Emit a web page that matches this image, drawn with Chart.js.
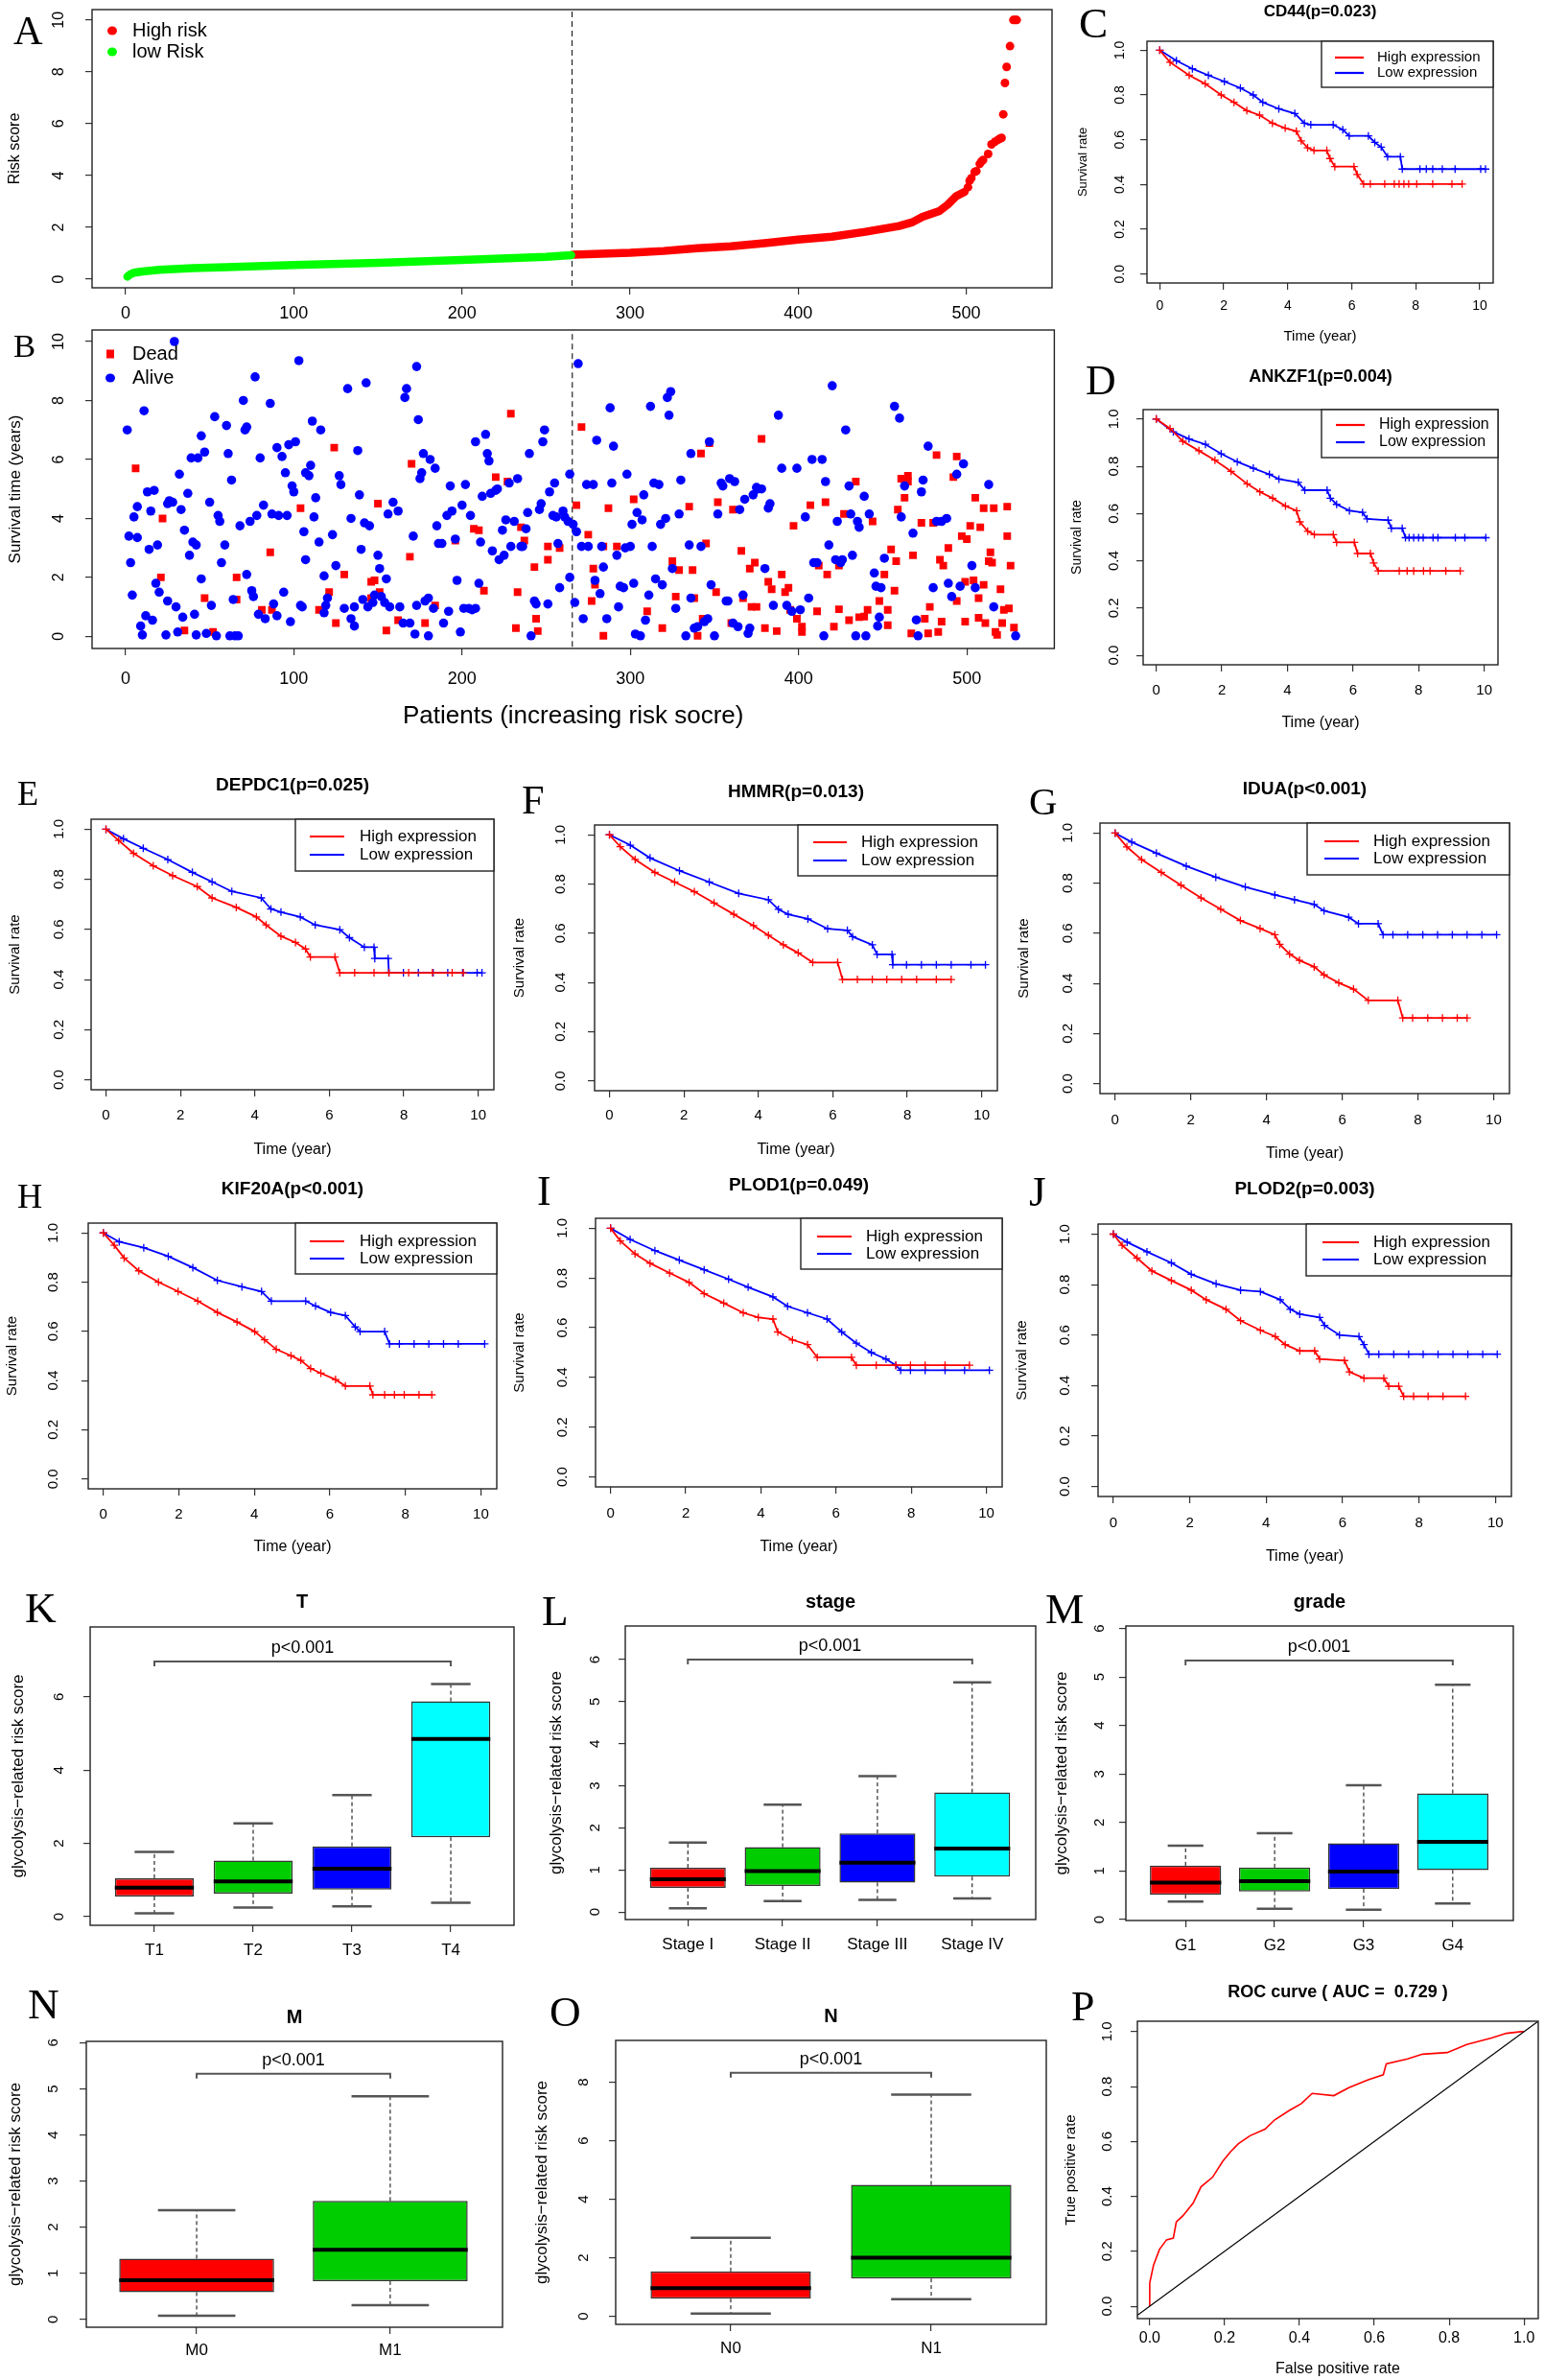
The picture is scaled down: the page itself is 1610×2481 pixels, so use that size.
<!DOCTYPE html>
<html>
<head>
<meta charset="utf-8">
<script src="https://cdn.jsdelivr.net/npm/chart.js@4.4.1/dist/chart.umd.min.js"></script>
<style>
  body { margin: 0; background: #fff; }
  #page { position: relative; width: 1610px; height: 2481px; overflow: hidden; background: #fff; }
  #page canvas { position: absolute; }
  .tag { position: absolute; font-family: "Liberation Serif", "Times New Roman", serif; line-height: 1; color: #000; white-space: nowrap; }
</style>
</head>
<body>
<div id="page"></div>
<script>
// ---------- data ----------
const patientTicks = [0, 100, 200, 300, 400, 500];
const riskTicks = [0, 2, 4, 6, 8, 10];
const survivalTicks = [0, 2, 4, 6, 8, 10];
const cutoffPatient = 265.5;

// A: sorted risk score
const lowRiskCurve = [[1,0.1],[3,0.2],[5,0.25],[10,0.3],[20,0.36],[40,0.43],[60,0.47],[100,0.55],[150,0.63],[200,0.74],[250,0.86],[265,0.93]];
const highRiskCurve = [[266,0.95],[300,1.02],[320,1.09],[340,1.2],[360,1.27],[380,1.39],[400,1.53],[420,1.64],[440,1.83],[460,2.05],[468,2.2],[474,2.41],[484,2.63],[489,2.88],[494,3.2],[499,3.37]];
const highRiskTail = [[501,3.55],[502,3.8],[503,3.9],[505,4.14],[506,4.17],[508,4.45],[509,4.54],[510,4.6],[513,4.83],[515,5.2],[517,5.3],[519,5.38],[520,5.42],[521,5.45],[522,6.36],[523,7.57],[524,8.19],[526,8.99],[528,10],[529,10],[530,10]];

// B: survival status (patient index, years)
const alivePatients = [
[1,7.0],[2,3.4],[3,2.5],[4,1.4],[5,4.05],[7,3.35],[7,4.4],[9,0.35],[10,0.05],[11,7.65],[12,0.7],[13,4.9],[14,2.95],[15,4.25],[16,0.55],[17,4.95],[18,1.8],[19,3.1],[20,1.5],[24,0.05],[25,4.5],[25,1.2],[26,4.6],[28,4.55],[29,10.0],[30,1.0],[31,0.15],[32,5.5],[33,4.3],[34,0.65],[35,3.6],[37,4.85],[38,2.75],[39,6.05],[40,3.2],
[41,0.75],[42,3.1],[42,0.05],[43,6.05],[45,6.8],[45,1.95],[47,6.25],[48,0.1],[50,4.55],[51,1.05],[53,7.45],[54,0.02],[55,4.1],[56,3.9],[57,2.5],[59,3.1],[60,7.15],[61,6.2],[62,0.02],[63,5.3],[64,1.25],[65,0.02],[67,0.02],[68,3.75],[70,8.0],[71,7.0],[72,7.1],[72,2.1],[74,3.9],[75,1.55],[76,1.35],[77,8.8],[78,4.1],[79,0.75],[80,6.05],
[82,4.45],[83,0.6],[86,7.9],[87,4.15],[88,1.1],[90,6.4],[90,0.7],[91,4.1],[93,6.1],[94,1.5],[95,5.55],[96,4.1],[97,6.5],[98,0.5],[99,5.1],[100,4.9],[101,6.6],[103,9.35],[104,1.05],[105,1.0],[106,3.55],[107,2.6],[107,5.55],[109,5.45],[110,5.8],[111,7.3],[112,4.05],[113,4.7],[115,3.2],[116,7.0],[118,0.8],[118,2.05],[119,1.05],[120,1.3],
[123,3.45],[125,2.4],[127,5.45],[128,5.15],[130,0.95],[132,8.4],[134,0.6],[134,4.0],[136,0.35],[136,1.0],[138,6.3],[139,4.8],[140,2.95],[141,1.25],[142,3.85],[143,8.6],[144,1.0],[145,3.75],[147,1.15],[148,1.4],[150,2.75],[151,2.3],[152,1.35],[154,1.15],[155,1.95],[156,4.15],[157,1.0],[159,4.55],
[162,4.25],[163,1.0],[165,0.45],[166,8.1],[167,8.4],[169,0.45],[171,3.4],[172,0.08],[173,1.05],[173,9.15],[174,7.35],[175,5.35],[176,5.55],[177,6.2],[178,1.2],[180,1.3],[180,0.02],[181,6.0],[183,0.95],[184,5.7],[185,3.75],[186,3.15],[188,3.15],[189,0.45],[191,4.1],[192,0.85],[193,5.1],[194,4.25],[196,3.3],[197,1.9],[199,0.15],[200,4.45],[201,0.95],
[202,5.15],[204,0.95],[205,4.1],[206,0.9],[208,0.95],[208,6.6],[210,1.8],[211,3.2],[212,4.75],[214,6.85],[215,6.2],[216,5.95],[217,4.85],[218,2.9],[220,4.95],[221,5.0],[222,2.6],[224,3.6],[225,2.75],[226,3.95],[228,5.2],[229,3.05],[231,3.9],[233,5.35],[235,3.05],[236,3.05],[238,3.65],[239,4.2],[240,6.2],[241,0.02],
[243,1.2],[244,1.1],[246,4.3],[247,4.5],[248,6.6],[249,7.0],[251,1.1],[252,4.9],[254,4.1],[255,5.2],[256,4.05],[257,3.15],[258,1.65],[260,4.25],[261,4.05],[263,3.9],[264,5.5],[264,2.0],[266,3.8],[267,1.15],[268,3.55],[269,9.25],[271,3.05],[272,0.6],[274,5.15],[275,3.05],[278,5.15],[279,1.9],[280,6.65],[282,1.45],
[283,3.05],[284,2.35],[286,0.6],[288,7.75],[289,5.2],[290,6.45],[292,2.75],[293,1.0],[294,1.7],[296,1.65],[297,3.0],[298,5.5],[300,3.05],[301,3.8],[302,1.8],[303,0.08],[304,4.2],[306,0.02],[307,3.95],[308,4.8],[309,0.55],[311,1.4],[312,7.8],[313,3.05],[314,5.2],[315,1.95],[317,5.15],[318,3.8],[319,1.75],[321,4.0],
[322,8.1],[323,7.5],[324,8.3],[325,2.3],[327,0.95],[329,4.15],[330,5.3],[333,0.02],[335,3.1],[336,1.3],[336,6.2],[338,0.28],[340,0.33],[342,3.05],[344,0.5],[346,0.6],[347,6.6],[348,1.75],[350,0.02],[352,4.15],[354,5.2],[355,5.1],[357,1.2],[358,1.2],[359,5.35],[361,0.45],[362,5.25],
[364,0.33],[365,4.3],[367,1.4],[368,4.65],[370,0.1],[371,0.28],[373,4.8],[375,5.05],[376,5.0],[378,5.0],[380,2.3],[382,4.35],[383,4.5],[385,1.05],[388,7.5],[390,5.7],[393,1.05],[396,0.85],[399,5.7],[401,0.9],
[404,4.05],[406,1.3],[408,6.0],[409,2.5],[411,2.5],[414,6.0],[415,0.02],[416,5.25],[418,3.1],[420,8.5],[422,2.6],[423,3.9],[425,2.5],[426,2.6],[428,7.0],[430,5.1],[431,4.15],[432,2.75],[434,0.02],[435,3.9],[436,3.7],[439,4.75],[440,0.02],[442,4.15],
[445,2.15],[446,1.7],[447,0.35],[448,0.65],[449,1.65],[451,2.65],[457,7.8],[460,7.4],[461,4.05],[463,5.1],[468,3.5],[470,0.56],[471,0.02],[473,4.9],[474,5.3],[477,6.45],[480,1.65],[482,3.9],
[485,3.9],[488,4.0],[489,1.8],[491,1.35],[494,5.5],[496,1.7],[498,5.85],[503,2.4],[505,1.65],[513,5.15],[516,1.0],[529,0.02]
];
const deadPatients = [
[6,5.7],[21,2.0],[22,4.0],[35,0.2],[47,1.3],[52,0.15],[66,2.0],[66,1.25],[81,0.9],[86,2.85],[87,0.9],[104,4.35],[115,0.9],[121,1.5],[124,6.4],[125,0.45],[130,2.1],[146,1.85],[146,1.3],[148,1.9],[150,4.5],[151,1.5],[155,0.2],[162,0.55],[169,2.7],[170,5.85],[178,0.45],[184,1.05],[196,3.25],
[207,3.65],[210,3.6],[213,1.55],[220,5.4],[227,5.25],[229,7.55],[232,0.28],[233,1.5],[235,3.7],[237,3.25],[243,2.35],[244,0.6],[245,0.18],[251,2.6],[251,3.05],[258,3.0],[268,4.45],[271,7.1],[275,3.45],[277,1.2],[278,2.3],[279,1.75],[284,0.02],[284,3.05],[287,4.35],[292,3.05],
[302,4.65],[310,0.85],[319,0.28],[325,2.55],[327,1.35],[329,2.25],[335,4.4],[337,2.25],[338,1.3],[340,0.02],[342,6.2],[343,0.6],[345,3.15],[347,6.55],[351,1.5],[352,4.55],[360,0.45],[361,4.3],[366,2.9],[367,1.3],[371,2.3],[372,1.0],[374,2.5],[375,1.0],[378,6.7],[380,0.28],[382,1.85],[384,1.6],[387,0.18],[390,2.1],[392,1.5],[394,1.65],[395,0.9],[397,3.75],[399,0.6],
[402,0.33],[402,0.15],[407,4.45],[411,0.85],[412,2.4],[416,4.55],[417,2.1],[421,0.33],[424,0.92],[424,2.4],[427,4.15],[430,0.55],[434,5.25],[436,0.65],[439,0.67],[441,0.9],[444,3.9],[448,1.2],[451,2.1],[453,0.9],[453,0.38],[455,2.95],[457,1.55],[458,2.55],[459,4.3],[461,5.35],[463,4.7],[465,5.45],[465,5.25],[467,0.1],[468,2.75],[473,3.85],[475,0.6],[477,0.1],[478,1.0],[480,3.85],[482,6.15],[483,0.15],[484,2.6],[485,0.5],[486,2.4],[489,3.0],[492,5.4],[494,6.1],[494,1.2],[497,3.4],[499,1.85],[499,0.5],
[500,3.3],[502,3.75],[504,1.9],[505,4.7],[507,1.3],[507,0.63],[508,3.7],[510,4.35],[510,1.75],[511,0.45],[513,2.55],[514,2.85],[515,2.5],[516,4.35],[517,0.15],[518,0.05],[520,1.6],[521,0.45],[522,0.9],[524,3.4],[524,4.4],[525,0.95],[526,2.4],[528,0.3]
];

// C-J: Kaplan-Meier curves (time in years, survival rate)
const kmTimeTicks = [0, 2, 4, 6, 8, 10];
const kmRateTicks = [0, 0.2, 0.4, 0.6, 0.8, 1.0];
const kmTitles = ['CD44(p=0.023)', 'ANKZF1(p=0.004)', 'DEPDC1(p=0.025)', 'HMMR(p=0.013)', 'IDUA(p<0.001)', 'KIF20A(p<0.001)', 'PLOD1(p=0.049)', 'PLOD2(p=0.003)'];
const kmLegendLabels = ['High expression', 'Low expression'];

const cd44High = [[0,1],[0.32,0.946],[0.92,0.888],[1.42,0.85],[1.92,0.8],[2.32,0.767],[2.72,0.73],[3.12,0.71],[3.52,0.674],[3.92,0.652],[4.27,0.638],[4.42,0.595],[4.62,0.564],[4.82,0.552],[5.22,0.552],[5.32,0.516],[5.47,0.48],[6.07,0.48],[6.17,0.445],[6.37,0.402],[6.58,0.402],[7.03,0.402],[7.33,0.402],[7.48,0.402],[7.63,0.402],[7.78,0.402],[8.03,0.402],[8.53,0.402],[9.13,0.402],[9.45,0.402]];
const cd44Low = [[0,1],[0.52,0.953],[1.02,0.917],[1.52,0.888],[2.02,0.86],[2.52,0.831],[2.92,0.8],[3.22,0.767],[3.72,0.738],[4.22,0.717],[4.52,0.674],[4.72,0.667],[5.42,0.667],[5.72,0.645],[5.92,0.617],[6.52,0.617],[6.72,0.588],[6.92,0.567],[7.12,0.524],[7.52,0.524],[7.58,0.469],[8.13,0.469],[8.33,0.469],[8.53,0.469],[8.83,0.469],[9.23,0.469],[10.03,0.469],[10.18,0.469]];
const ankzf1High = [[0,1],[0.42,0.96],[0.81,0.906],[1.3,0.866],[1.79,0.826],[2.28,0.779],[2.77,0.726],[3.16,0.692],[3.55,0.665],[3.94,0.632],[4.28,0.612],[4.38,0.565],[4.62,0.525],[4.82,0.511],[5.4,0.511],[5.5,0.478],[6.04,0.478],[6.14,0.431],[6.53,0.431],[6.63,0.391],[6.77,0.357],[7.41,0.357],[7.65,0.357],[7.85,0.357],[8.15,0.357],[8.35,0.357],[8.83,0.357],[9.27,0.357]];
const ankzf1Low = [[0,1],[0.52,0.946],[1.0,0.916],[1.5,0.893],[1.98,0.853],[2.47,0.819],[2.96,0.792],[3.45,0.766],[3.74,0.746],[4.33,0.732],[4.53,0.699],[5.21,0.699],[5.31,0.665],[5.5,0.639],[5.89,0.612],[6.29,0.605],[6.43,0.578],[7.07,0.572],[7.17,0.538],[7.5,0.538],[7.6,0.498],[7.71,0.498],[7.85,0.498],[8.0,0.498],[8.14,0.498],[8.44,0.498],[8.59,0.498],[9.12,0.498],[9.41,0.498],[10.05,0.498]];
const depdc1High = [[0,1],[0.34,0.955],[0.74,0.904],[1.27,0.854],[1.79,0.815],[2.45,0.771],[2.85,0.726],[3.5,0.688],[4.04,0.65],[4.3,0.618],[4.7,0.573],[5.09,0.548],[5.36,0.522],[5.49,0.49],[6.15,0.49],[6.28,0.427],[6.68,0.427],[7.2,0.427],[7.6,0.427],[8.13,0.427],[8.77,0.427],[9.3,0.427],[9.6,0.427]];
const depdc1Low = [[0,1],[0.47,0.962],[1.0,0.924],[1.66,0.879],[2.32,0.828],[2.85,0.79],[3.38,0.752],[4.17,0.726],[4.43,0.682],[4.7,0.669],[5.22,0.65],[5.62,0.618],[6.28,0.599],[6.54,0.567],[6.94,0.529],[7.2,0.529],[7.22,0.484],[7.58,0.484],[7.6,0.427],[7.99,0.427],[8.39,0.427],[8.79,0.427],[9.18,0.427],[9.58,0.427],[9.97,0.427],[10.1,0.427]];
const hmmrHigh = [[0,1],[0.29,0.952],[0.69,0.9],[1.22,0.847],[1.75,0.808],[2.28,0.769],[2.81,0.723],[3.34,0.677],[3.87,0.631],[4.27,0.592],[4.67,0.553],[5.07,0.52],[5.46,0.481],[6.13,0.481],[6.26,0.412],[6.66,0.412],[7.06,0.412],[7.45,0.412],[7.85,0.412],[8.25,0.412],[8.78,0.412],[9.18,0.412]];
const hmmrLow = [[0,1],[0.56,0.958],[1.09,0.906],[1.88,0.854],[2.68,0.808],[3.47,0.762],[4.27,0.736],[4.54,0.697],[4.8,0.677],[5.33,0.658],[5.86,0.618],[6.39,0.612],[6.53,0.586],[7.06,0.553],[7.19,0.514],[7.59,0.514],[7.61,0.472],[7.98,0.472],[8.38,0.472],[8.78,0.472],[9.18,0.472],[9.71,0.472],[10.1,0.472]];
const iduaHigh = [[0,1],[0.31,0.945],[0.7,0.894],[1.22,0.843],[1.74,0.792],[2.27,0.741],[2.79,0.696],[3.31,0.651],[3.83,0.619],[4.22,0.594],[4.35,0.556],[4.61,0.517],[4.87,0.492],[5.26,0.466],[5.52,0.434],[5.91,0.402],[6.3,0.377],[6.69,0.332],[7.47,0.332],[7.6,0.262],[7.86,0.262],[8.26,0.262],[8.65,0.262],[9.04,0.262],[9.3,0.262]];
const iduaLow = [[0,1],[0.44,0.964],[1.09,0.92],[1.88,0.868],[2.66,0.824],[3.44,0.785],[4.22,0.753],[4.74,0.734],[5.26,0.715],[5.52,0.69],[6.17,0.664],[6.43,0.638],[6.95,0.638],[7.08,0.594],[7.34,0.594],[7.73,0.594],[8.13,0.594],[8.52,0.594],[8.91,0.594],[9.3,0.594],[9.69,0.594],[10.08,0.594]];
const kif20aHigh = [[0,1],[0.29,0.95],[0.55,0.898],[0.94,0.846],[1.46,0.8],[1.98,0.762],[2.5,0.723],[3.02,0.677],[3.54,0.638],[4.01,0.599],[4.27,0.566],[4.58,0.527],[4.97,0.501],[5.23,0.482],[5.49,0.449],[5.76,0.43],[6.15,0.404],[6.41,0.378],[7.06,0.378],[7.14,0.342],[7.45,0.342],[7.71,0.342],[7.97,0.342],[8.36,0.342],[8.7,0.342]];
const kif20aLow = [[0,1],[0.42,0.964],[1.07,0.94],[1.72,0.905],[2.37,0.859],[3.02,0.807],[3.67,0.781],[4.19,0.762],[4.45,0.723],[5.36,0.723],[5.62,0.703],[6.02,0.677],[6.41,0.664],[6.67,0.618],[6.8,0.599],[7.45,0.599],[7.58,0.549],[7.84,0.549],[8.23,0.549],[8.62,0.549],[9.01,0.549],[9.4,0.549],[10.1,0.549]];
const plod1High = [[0,1],[0.26,0.949],[0.65,0.897],[1.05,0.859],[1.57,0.82],[2.09,0.782],[2.49,0.737],[3.01,0.699],[3.53,0.66],[3.93,0.641],[4.32,0.635],[4.45,0.583],[4.84,0.551],[5.24,0.532],[5.5,0.481],[6.41,0.481],[6.54,0.449],[7.07,0.449],[7.59,0.449],[7.98,0.449],[8.37,0.449],[8.9,0.449],[9.55,0.449]];
const plod1Low = [[0,1],[0.52,0.955],[1.18,0.91],[1.83,0.872],[2.49,0.833],[3.14,0.795],[3.66,0.763],[4.32,0.724],[4.71,0.686],[5.24,0.66],[5.76,0.635],[6.15,0.583],[6.54,0.538],[6.94,0.5],[7.33,0.474],[7.59,0.449],[7.72,0.429],[7.98,0.429],[8.37,0.429],[8.9,0.429],[9.42,0.429],[10.08,0.429]];
const plod2High = [[0,1],[0.23,0.956],[0.62,0.905],[1.01,0.854],[1.52,0.816],[2.04,0.778],[2.43,0.74],[2.95,0.702],[3.33,0.657],[3.85,0.619],[4.24,0.594],[4.5,0.562],[4.88,0.537],[5.27,0.537],[5.4,0.505],[6.05,0.499],[6.18,0.454],[6.56,0.429],[7.08,0.429],[7.21,0.397],[7.47,0.397],[7.6,0.357],[7.86,0.357],[8.24,0.357],[8.63,0.357],[9.22,0.357]];
const plod2Low = [[0,1],[0.36,0.968],[0.88,0.93],[1.52,0.886],[2.04,0.841],[2.69,0.803],[3.33,0.778],[3.85,0.772],[4.37,0.74],[4.63,0.702],[4.88,0.683],[5.4,0.67],[5.53,0.638],[5.92,0.6],[6.43,0.594],[6.56,0.562],[6.69,0.524],[6.95,0.524],[7.34,0.524],[7.73,0.524],[8.11,0.524],[8.5,0.524],[8.89,0.524],[9.28,0.524],[9.67,0.524],[10.05,0.524]];

// K-O: box plots, each box = [min, q1, median, q3, max]
const boxYTitle = 'glycolysis\u2212related risk score';
const pValueText = 'p<0.001';
const boxColors = ['#FF0000', '#00CD00', '#0000FF', '#00FFFF'];
const tCategories = ['T1', 'T2', 'T3', 'T4'];
const tBoxes = [[0.09,0.55,0.79,1.05,1.77],[0.25,0.63,0.96,1.53,2.55],[0.28,0.74,1.31,1.92,3.32],[0.38,2.17,4.85,5.88,6.35]];
const stageCategories = ['Stage I', 'Stage II', 'Stage III', 'Stage IV'];
const stageBoxes = [[0.09,0.57,0.78,1.05,1.65],[0.26,0.62,0.97,1.54,2.55],[0.29,0.7,1.17,1.87,3.23],[0.32,0.84,1.51,2.84,5.46]];
const gradeCategories = ['G1', 'G2', 'G3', 'G4'];
const gradeBoxes = [[0.37,0.51,0.76,1.11,1.52],[0.22,0.58,0.79,1.07,1.78],[0.2,0.63,0.99,1.57,2.77],[0.33,1.02,1.6,2.6,4.84]];
const mCategories = ['M0', 'M1'];
const mBoxes = [[0.08,0.59,0.85,1.32,2.37],[0.31,0.83,1.51,2.57,4.84]];
const nCategories = ['N0', 'N1'];
const nBoxes = [[0.09,0.6,0.96,1.53,2.68],[0.58,1.29,2.0,4.49,7.58]];
const boxTicks6 = [0, 1, 2, 3, 4, 5, 6];
const tTicks = [0, 2, 4, 6];
const nTicks = [0, 2, 4, 6, 8];

// P: ROC curve
const rocTicks = [0, 0.2, 0.4, 0.6, 0.8, 1.0];
const rocPoints = [[0,0],[0,0.085],[0.01,0.149],[0.026,0.207],[0.045,0.242],[0.063,0.248],[0.071,0.307],[0.089,0.33],[0.116,0.376],[0.137,0.435],[0.168,0.47],[0.195,0.528],[0.216,0.563],[0.237,0.592],[0.268,0.621],[0.308,0.645],[0.334,0.679],[0.374,0.714],[0.405,0.738],[0.434,0.775],[0.492,0.767],[0.532,0.796],[0.584,0.825],[0.624,0.843],[0.632,0.883],[0.689,0.901],[0.729,0.918],[0.795,0.924],[0.847,0.953],[0.913,0.977],[0.953,0.994],[0.992,1.0],[1,1]];
const chanceLine = [[-0.05,-0.05],[1.05,1.05]];

// ---------- drawing ----------
const FONT = '"Liberation Sans", Arial, Helvetica, sans-serif';
const RED = '#FF0000', BLUE = '#0000FF', GREEN = '#00FF00';
Chart.defaults.font.family = FONT;
Chart.defaults.color = '#000';

const page = document.getElementById('page');

function makeCanvas(x, y, w, h) {
  const c = document.createElement('canvas');
  c.width = w; c.height = h;
  c.style.left = x + 'px'; c.style.top = y + 'px';
  c.style.width = w + 'px'; c.style.height = h + 'px';
  page.appendChild(c);
  return c;
}

function addTag(letter, x, capTop, capH) {
  const size = capH / 0.662;
  const d = document.createElement('div');
  d.className = 'tag';
  d.textContent = letter;
  d.style.fontSize = size + 'px';
  d.style.left = x + 'px';
  d.style.top = (capTop - 0.1755 * size) + 'px';
  page.appendChild(d);
}

const framePlugin = {
  id: 'frame',
  afterDraw(chart) {
    const { ctx, chartArea: a } = chart;
    ctx.save();
    ctx.strokeStyle = '#222';
    ctx.lineWidth = 1.4;
    ctx.strokeRect(a.left, a.top, a.right - a.left, a.bottom - a.top);
    ctx.restore();
  }
};

// legend box in the top right corner (KM panels)
function boxLegend(o) {
  return {
    id: 'boxLegend',
    afterDraw(chart) {
      const { ctx, chartArea: a } = chart;
      const x0 = a.right - o.w, y0 = a.top;
      ctx.save();
      ctx.fillStyle = '#fff';
      ctx.fillRect(x0, y0, o.w, o.h);
      ctx.strokeStyle = '#222';
      ctx.lineWidth = 1.4;
      ctx.strokeRect(x0, y0, o.w, o.h);
      ctx.font = o.size + 'px ' + FONT;
      ctx.textBaseline = 'middle';
      [RED, BLUE].forEach((color, i) => {
        const y = y0 + o.rows[i];
        ctx.strokeStyle = color;
        ctx.lineWidth = 2.2;
        ctx.beginPath();
        ctx.moveTo(x0 + o.line[0], y);
        ctx.lineTo(x0 + o.line[1], y);
        ctx.stroke();
        ctx.fillStyle = '#000';
        ctx.fillText(kmLegendLabels[i], x0 + o.textX, y);
      });
      ctx.restore();
    }
  };
}

// marker legend in the top left corner (A, B)
function markerLegend(o) {
  return {
    id: 'markerLegend',
    afterDraw(chart) {
      const { ctx, chartArea: a } = chart;
      ctx.save();
      ctx.font = o.size + 'px ' + FONT;
      ctx.textBaseline = 'middle';
      o.items.forEach((it, i) => {
        const y = a.top + o.rows[i], x = a.left + o.markX;
        ctx.fillStyle = it.color;
        ctx.beginPath();
        if (it.shape === 'rect') ctx.rect(x - 4, y - 4.5, 8, 9);
        else ctx.ellipse(x, y, 5, 4.5, 0, 0, Math.PI * 2);
        ctx.fill();
        ctx.fillStyle = '#000';
        ctx.fillText(it.text, a.left + o.textX, y);
      });
      ctx.restore();
    }
  };
}

// whiskers, medians and the p-value bracket of a box plot
function boxExtras(boxes, bracketLevel) {
  return {
    id: 'boxExtras',
    afterDatasetsDraw(chart) {
      const { ctx, scales: { x, y } } = chart;
      const unit = x.getPixelForValue(2) - x.getPixelForValue(1);
      ctx.save();
      boxes.forEach((bx, i) => {
        const px = x.getPixelForValue(i + 1);
        const [lo, q1, med, q3, hi] = bx.map(v => y.getPixelForValue(v));
        ctx.strokeStyle = '#000';
        ctx.lineWidth = 1;
        ctx.setLineDash([4, 3]);
        ctx.beginPath();
        ctx.moveTo(px, q3); ctx.lineTo(px, hi);
        ctx.moveTo(px, q1); ctx.lineTo(px, lo);
        ctx.stroke();
        ctx.setLineDash([]);
        ctx.strokeStyle = '#555';
        ctx.lineWidth = 2.5;
        ctx.beginPath();
        ctx.moveTo(px - unit * 0.2, hi); ctx.lineTo(px + unit * 0.2, hi);
        ctx.moveTo(px - unit * 0.2, lo); ctx.lineTo(px + unit * 0.2, lo);
        ctx.stroke();
        ctx.strokeStyle = '#000';
        ctx.lineWidth = 4;
        ctx.beginPath();
        ctx.moveTo(px - unit * 0.4, med); ctx.lineTo(px + unit * 0.4, med);
        ctx.stroke();
      });
      const by = y.getPixelForValue(bracketLevel);
      const x1 = x.getPixelForValue(1), x2 = x.getPixelForValue(boxes.length);
      ctx.strokeStyle = '#555';
      ctx.lineWidth = 2;
      ctx.beginPath();
      ctx.moveTo(x1, by + 5); ctx.lineTo(x1, by); ctx.lineTo(x2, by); ctx.lineTo(x2, by + 5);
      ctx.stroke();
      ctx.fillStyle = '#000';
      ctx.font = '18px ' + FONT;
      ctx.textAlign = 'center';
      ctx.textBaseline = 'middle';
      ctx.fillText(pValueText, (x1 + x2) / 2, by - 14);
      ctx.restore();
    }
  };
}

// one R-style panel: box frame, outward ticks, rotated y labels
function buildPlot(s) {
  const [cx, cy, cw, ch] = s.canvas;
  const [l, t, r, b] = s.area;
  const canvas = makeCanvas(cx, cy, cw, ch);
  const tickLen = 7;
  const titleOpt = { display: false };
  let padTop = t - cy;
  if (s.title) {
    const lh = s.title.size * 1.2;
    const c = s.title.y - cy;
    Object.assign(titleOpt, {
      display: true, text: s.title.text, fullSize: false, color: '#000',
      font: { size: s.title.size, weight: 'bold' },
      padding: { top: c - lh / 2, bottom: (t - cy) - c - lh / 2 }
    });
    padTop = 0;
  }
  const m = document.createElement('canvas').getContext('2d');
  m.font = s.y.size + 'px ' + FONT;
  const widest = Math.max(...s.y.ticks.map(v => m.measureText(s.y.fmt(v)).width));
  const noPad = sc => { sc.paddingLeft = 0; sc.paddingRight = 0; sc.paddingTop = 0; sc.paddingBottom = 0; };
  const gridOpt = { drawOnChartArea: false, drawTicks: true, tickLength: tickLen, color: '#333', lineWidth: 1.2, offset: false };
  return new Chart(canvas, {
    type: s.type || 'scatter',
    data: { datasets: s.datasets },
    options: {
      responsive: false,
      animation: false,
      devicePixelRatio: 1,
      layout: { padding: { left: 0, right: cx + cw - r, top: padTop, bottom: 0 } },
      plugins: { legend: { display: false }, tooltip: { enabled: false }, title: titleOpt },
      scales: {
        x: {
          type: 'linear', min: s.x.min, max: s.x.max, offset: false,
          afterBuildTicks: sc => { sc.ticks = s.x.ticks.map(v => ({ value: v })); },
          afterFit: sc => { sc.height = cy + ch - b; noPad(sc); },
          grid: gridOpt,
          border: { display: false },
          ticks: {
            autoSkip: false, maxRotation: 0, minRotation: 0, color: '#000',
            font: { size: s.x.size },
            padding: (s.x.labelY - b) - tickLen - s.x.size * 0.6,
            callback: v => s.x.fmt(v)
          },
          title: s.x.title ? {
            display: true, text: s.x.title, color: '#000', font: { size: s.x.titleSize },
            padding: { top: 0, bottom: (cy + ch - s.x.titleY) - s.x.titleSize * 0.6 }
          } : { display: false }
        },
        y: {
          type: 'linear', min: s.y.min, max: s.y.max,
          afterBuildTicks: sc => { sc.ticks = s.y.ticks.map(v => ({ value: v })); },
          afterFit: sc => { sc.width = l - cx; noPad(sc); },
          grid: gridOpt,
          border: { display: false },
          ticks: {
            autoSkip: false, minRotation: 90, maxRotation: 90, crossAlign: 'center', color: '#000',
            font: { size: s.y.size },
            padding: (l - s.y.labelX) - tickLen - widest / 2,
            callback: v => s.y.fmt(v)
          },
          title: {
            display: true, text: s.y.title, color: '#000', font: { size: s.y.titleSize },
            padding: { top: (s.y.titleX - cx) - s.y.titleSize * 0.6, bottom: 0 }
          }
        }
      }
    },
    plugins: [framePlugin].concat(s.plugins || [])
  });
}

// A: risk score
buildPlot({
  canvas: [0, 0, 1105, 338], area: [96, 10, 1097, 300],
  x: { min: -20, max: 551, ticks: patientTicks, size: 18, labelY: 327, fmt: v => String(v) },
  y: { min: -0.33, max: 10.4, ticks: riskTicks, size: 16, labelX: 62, fmt: v => String(v),
       title: 'Risk score', titleSize: 16, titleX: 16 },
  datasets: [
    { data: lowRiskCurve, showLine: true, borderColor: GREEN, borderWidth: 8.5, borderCapStyle: 'round', borderJoinStyle: 'round', pointRadius: 0 },
    { data: highRiskCurve, showLine: true, borderColor: RED, borderWidth: 8.5, borderCapStyle: 'round', borderJoinStyle: 'round', pointRadius: 0 },
    { data: highRiskTail, pointRadius: 4.5, pointBackgroundColor: RED, pointBorderWidth: 0 },
    { data: [[cutoffPatient, -1], [cutoffPatient, 11]], showLine: true, borderColor: '#222', borderWidth: 1.2, borderDash: [6, 4], pointRadius: 0 }
  ],
  plugins: [markerLegend({ markX: 21, textX: 42, rows: [22, 44], size: 20,
    items: [{ color: RED, text: 'High risk' }, { color: GREEN, text: 'low Risk' }] })]
});

// B: survival status
buildPlot({
  canvas: [0, 338, 1105, 437], area: [96, 344, 1103, 676],
  x: { min: -19.9, max: 552, ticks: patientTicks, size: 18, labelY: 708, fmt: v => String(v),
       title: 'Patients (increasing risk socre)', titleSize: 26, titleY: 747 },
  y: { min: -0.41, max: 10.39, ticks: survivalTicks, size: 16, labelX: 62, fmt: v => String(v),
       title: 'Survival time (years)', titleSize: 17, titleX: 16 },
  datasets: [
    { data: alivePatients, pointStyle: 'circle', pointRadius: 4.8, pointBackgroundColor: BLUE, pointBorderWidth: 0 },
    { data: deadPatients, pointStyle: 'rect', pointRadius: 5.6, pointBackgroundColor: RED, pointBorderWidth: 0 },
    { data: [[cutoffPatient, -1], [cutoffPatient, 11]], showLine: true, borderColor: '#222', borderWidth: 1.2, borderDash: [6, 4], pointRadius: 0 }
  ],
  plugins: [markerLegend({ markX: 19, textX: 42, rows: [25, 50], size: 20,
    items: [{ color: RED, text: 'Dead', shape: 'rect' }, { color: BLUE, text: 'Alive' }] })]
});

// C-J: survival curves
const kmPanels = [
  { canvas: [1095, 0, 515, 372], area: [1196, 43, 1557, 295], titleY: 12, titleSize: 17, xLabelY: 319, xTitleY: 351, yLabelX: 1168, yTitleX: 1129,
    tick: 14, yTick: 14, xTitle: 15, yTitle: 13, high: cd44High, low: cd44Low, legend: { w: 179, h: 48, line: [14, 44], textX: 58, rows: [17, 33], size: 15 } },
  { canvas: [1095, 372, 515, 403], area: [1192, 427, 1562, 693], titleY: 393, titleSize: 18, xLabelY: 720, xTitleY: 754, yLabelX: 1162, yTitleX: 1123,
    tick: 15, yTick: 15, xTitle: 16, yTitle: 14, high: ankzf1High, low: ankzf1Low, legend: { w: 184, h: 50, line: [15, 45], textX: 60, rows: [16, 34], size: 16 } },
  { canvas: [0, 800, 540, 415], area: [95, 854, 515, 1136], titleY: 819, titleSize: 19, xLabelY: 1163, xTitleY: 1199, yLabelX: 62, yTitleX: 16,
    tick: 15, yTick: 15, xTitle: 16, yTitle: 15, high: depdc1High, low: depdc1Low, legend: { w: 207, h: 54, line: [15, 51], textX: 67, rows: [18, 37], size: 17 } },
  { canvas: [520, 800, 545, 415], area: [620, 860, 1040, 1137], titleY: 826, titleSize: 19, xLabelY: 1163, xTitleY: 1199, yLabelX: 585, yTitleX: 542,
    tick: 15, yTick: 15, xTitle: 16, yTitle: 15, high: hmmrHigh, low: hmmrLow, legend: { w: 208, h: 53, line: [16, 51], textX: 66, rows: [18, 37], size: 17 } },
  { canvas: [1045, 800, 565, 415], area: [1147, 858, 1574, 1140], titleY: 823, titleSize: 19, xLabelY: 1168, xTitleY: 1203, yLabelX: 1114, yTitleX: 1068,
    tick: 15, yTick: 15, xTitle: 16, yTitle: 15, high: iduaHigh, low: iduaLow, legend: { w: 211, h: 54, line: [18, 54], textX: 69, rows: [19, 37], size: 17 } },
  { canvas: [0, 1215, 540, 425], area: [92, 1275, 518, 1552], titleY: 1240, titleSize: 19, xLabelY: 1579, xTitleY: 1613, yLabelX: 56, yTitleX: 13,
    tick: 15, yTick: 15, xTitle: 16, yTitle: 15, high: kif20aHigh, low: kif20aLow, legend: { w: 210, h: 53, line: [15, 51], textX: 67, rows: [19, 37], size: 17 } },
  { canvas: [520, 1215, 545, 425], area: [621, 1270, 1045, 1550], titleY: 1236, titleSize: 19, xLabelY: 1578, xTitleY: 1613, yLabelX: 587, yTitleX: 542,
    tick: 15, yTick: 15, xTitle: 16, yTitle: 15, high: plod1High, low: plod1Low, legend: { w: 210, h: 53, line: [17, 53], textX: 68, rows: [19, 37], size: 17 } },
  { canvas: [1045, 1215, 565, 425], area: [1145, 1276, 1576, 1560], titleY: 1240, titleSize: 19, xLabelY: 1588, xTitleY: 1623, yLabelX: 1111, yTitleX: 1066,
    tick: 15, yTick: 15, xTitle: 16, yTitle: 15, high: plod2High, low: plod2Low, legend: { w: 214, h: 54, line: [17, 55], textX: 70, rows: [19, 37], size: 17 } }
];

function kmCurve(data, color) {
  return { data, showLine: true, borderColor: color, borderWidth: 1.8, pointStyle: 'cross',
    pointRadius: 4, pointBorderWidth: 1.3, pointBorderColor: color, pointBackgroundColor: color };
}

kmPanels.forEach((p, i) => {
  buildPlot({
    canvas: p.canvas, area: p.area,
    title: { text: kmTitles[i], y: p.titleY, size: p.titleSize },
    x: { min: -0.4, max: 10.42, ticks: kmTimeTicks, size: p.tick, labelY: p.xLabelY, fmt: v => String(v),
         title: 'Time (year)', titleSize: p.xTitle, titleY: p.xTitleY },
    y: { min: -0.04, max: 1.04, ticks: kmRateTicks, size: p.yTick, labelX: p.yLabelX, fmt: v => v.toFixed(1),
         title: 'Survival rate', titleSize: p.yTitle, titleX: p.yTitleX },
    datasets: [kmCurve(p.high, RED), kmCurve(p.low, BLUE)],
    plugins: [boxLegend(p.legend)]
  });
});

// K-O: box plots
const boxPanels = [
  { canvas: [0, 1640, 545, 415], area: [94, 1696, 536, 2007], title: 'T', titleY: 1670, xRange: [0.35, 4.64], yRange: [-0.236, 7.91], yTicks: tTicks,
    xLabelY: 2033, yLabelX: 62, yTitleX: 19, cats: tCategories, boxes: tBoxes, bracket: 6.97 },
  { canvas: [545, 1640, 540, 415], area: [652, 1695, 1080, 2001], title: 'stage', titleY: 1670, xRange: [0.34, 4.67], yRange: [-0.18, 6.8], yTicks: boxTicks6,
    xLabelY: 2027, yLabelX: 621, yTitleX: 580, cats: stageCategories, boxes: stageBoxes, bracket: 6.0 },
  { canvas: [1085, 1640, 525, 415], area: [1174, 1695, 1578, 2002], title: 'grade', titleY: 1670, xRange: [0.33, 4.68], yRange: [-0.02, 6.05], yTicks: boxTicks6,
    xLabelY: 2028, yLabelX: 1147, yTitleX: 1107, cats: gradeCategories, boxes: gradeBoxes, bracket: 5.34 },
  { canvas: [0, 2055, 545, 426], area: [90, 2128, 524, 2426], title: 'M', titleY: 2103, xRange: [0.43, 2.58], yRange: [-0.17, 6.03], yTicks: boxTicks6,
    xLabelY: 2450, yLabelX: 56, yTitleX: 16, cats: mCategories, boxes: mBoxes, bracket: 5.33 },
  { canvas: [545, 2055, 555, 426], area: [642, 2127, 1091, 2423], title: 'N', titleY: 2102, xRange: [0.426, 2.574], yRange: [-0.28, 9.43], yTicks: nTicks,
    xLabelY: 2448, yLabelX: 609, yTitleX: 565, cats: nCategories, boxes: nBoxes, bracket: 8.32 }
];

boxPanels.forEach(p => {
  buildPlot({
    type: 'bar', canvas: p.canvas, area: p.area,
    title: { text: p.title, y: p.titleY, size: 20 },
    x: { min: p.xRange[0], max: p.xRange[1], ticks: p.cats.map((c, i) => i + 1), size: 17, labelY: p.xLabelY,
         fmt: v => p.cats[Math.round(v) - 1] },
    y: { min: p.yRange[0], max: p.yRange[1], ticks: p.yTicks, size: 15, labelX: p.yLabelX, fmt: v => String(v),
         title: boxYTitle, titleSize: 17, titleX: p.yTitleX },
    datasets: [{
      data: p.boxes.map((bx, i) => ({ x: i + 1, y: [bx[1], bx[3]] })),
      backgroundColor: boxColors.slice(0, p.boxes.length),
      borderColor: '#333', borderWidth: 1.5, borderSkipped: false,
      categoryPercentage: 1, barPercentage: 0.8
    }],
    plugins: [boxExtras(p.boxes, p.bracket)]
  });
});

// P: ROC curve
buildPlot({
  canvas: [1100, 2055, 510, 426], area: [1186, 2107, 1604, 2417],
  title: { text: 'ROC curve ( AUC =  0.729 )', y: 2077, size: 18 },
  x: { min: -0.033, max: 1.038, ticks: rocTicks, size: 16, labelY: 2438, fmt: v => v.toFixed(1),
       title: 'False positive rate', titleSize: 16, titleY: 2470 },
  y: { min: -0.045, max: 1.038, ticks: rocTicks, size: 15, labelX: 1155, fmt: v => v.toFixed(1),
       title: 'True positive rate', titleSize: 15, titleX: 1117 },
  datasets: [
    { data: chanceLine, showLine: true, borderColor: '#000', borderWidth: 1.2, pointRadius: 0 },
    { data: rocPoints, showLine: true, borderColor: RED, borderWidth: 1.6, pointRadius: 0 }
  ]
});

// panel letters
[['A', 14, 18, 28], ['B', 14, 350, 23], ['C', 1125, 10, 30], ['D', 1132, 383, 29],
 ['E', 18, 815, 24], ['F', 544, 820, 28], ['G', 1073, 823, 27],
 ['H', 18, 1235, 24], ['I', 560, 1228, 29], ['J', 1073, 1228, 30],
 ['K', 26, 1662, 30], ['L', 565, 1665, 30], ['M', 1090, 1663, 30],
 ['N', 29, 2075, 30], ['O', 573, 2083, 30], ['P', 1117, 2078, 29]].forEach(t => addTag(...t));
</script>
</body>
</html>
